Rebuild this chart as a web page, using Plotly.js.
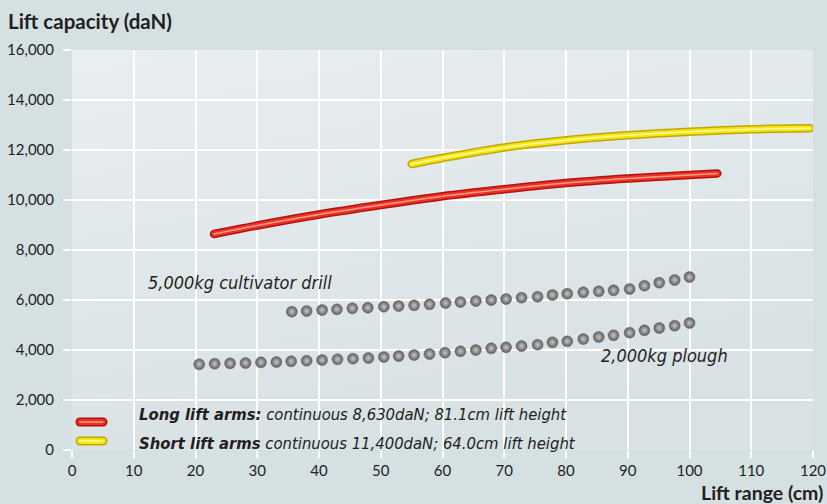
<!DOCTYPE html>
<html>
<head>
<meta charset="utf-8">
<script src="https://cdn.plot.ly/plotly-3.0.1.min.js"></script>
<style>
html,body{margin:0;padding:0;background:#d5e0e3;}
#chart{width:827px;height:504px;}
#chart .scatterlayer path.js-line, #chart .shapelayer path { stroke-linecap: round; stroke-linejoin: round; }
</style>
</head>
<body>
<div id="chart"></div>
<script>
// Long lift arms (red)
var longX = [23, 30, 40, 50, 60, 70, 80, 90, 100, 104.5];
var longY = [8640, 8980, 9420, 9800, 10150, 10430, 10680, 10860, 11000, 11060];
// Short lift arms (yellow)
var shortX = [55, 60, 70, 80, 90, 100, 110, 119.5];
var shortY = [11440, 11680, 12100, 12390, 12590, 12730, 12830, 12870];
// 5,000kg cultivator drill (dots)
var drillX = [35.6, 38.0, 40.5, 42.9, 45.4, 47.9, 50.5, 52.9, 55.4, 57.9, 60.5, 62.9, 65.4, 67.9, 70.3, 72.8, 75.4, 77.8, 80.2, 82.8, 85.3, 87.7, 90.3, 92.7, 95.1, 97.6, 100.0];
var drillY = [5532, 5560, 5600, 5628, 5668, 5692, 5732, 5760, 5788, 5828, 5880, 5920, 5960, 6000, 6040, 6092, 6132, 6200, 6252, 6308, 6348, 6388, 6440, 6572, 6692, 6800, 6920];
// 2,000kg plough (dots)
var ploughX = [20.6, 23.1, 25.6, 28.1, 30.6, 33.1, 35.5, 38.0, 40.5, 43.0, 45.5, 48.0, 50.5, 52.9, 55.4, 57.9, 60.4, 62.9, 65.4, 67.9, 70.3, 72.8, 75.4, 77.8, 80.2, 82.8, 85.3, 87.7, 90.3, 92.7, 95.1, 97.6, 100.0];
var ploughY = [3428, 3452, 3468, 3480, 3508, 3520, 3548, 3572, 3600, 3628, 3652, 3680, 3720, 3760, 3800, 3840, 3892, 3948, 4000, 4068, 4108, 4160, 4212, 4308, 4348, 4440, 4520, 4588, 4692, 4788, 4880, 4972, 5080];
// labels
var yTickVals = [0, 2000, 4000, 6000, 8000, 10000, 12000, 14000, 16000];
var yTickText = ['0', '2,000', '4,000', '6,000', '8,000', '10,000', '12,000', '14,000', '16,000'];
var xTickVals = [0, 10, 20, 30, 40, 50, 60, 70, 80, 90, 100, 110, 120];
var legendLong = '<b>Long lift arms:</b> continuous 8,630daN; 81.1cm lift height';
var legendShort = '<b>Short lift arms</b> continuous 11,400daN; 64.0cm lift height';
var yTitle = 'Lift capacity (daN)';
var xTitle = 'Lift range (cm)';
var drillLabel = '5,000kg cultivator drill';
var ploughLabel = '2,000kg plough';

var narrow = 'Liberation Sans Narrow, DejaVu Sans Condensed, Arial Narrow, sans-serif';
var main = 'Lato, Noto Sans, sans-serif';

function tube(x, y, dark, mid, light) {
  return [
    {x: x, y: y, mode: 'lines', line: {color: dark, width: 8.5, shape: 'spline'}, hoverinfo: 'skip', showlegend: false},
    {x: x, y: y, mode: 'lines', line: {color: mid, width: 5.5, shape: 'spline'}, hoverinfo: 'skip', showlegend: false},
    {x: x, y: y, mode: 'lines', line: {color: light, width: 1.6, shape: 'spline'}, hoverinfo: 'skip', showlegend: false}
  ];
}
function dots(x, y) {
  return {x: x, y: y, mode: 'markers', showlegend: false, hoverinfo: 'x+y',
    marker: {size: 11, color: '#5c5c5c', gradient: {type: 'radial', color: '#c8c8c8'}, line: {color: '#666666', width: 0.5}}};
}

var traces = [].concat(
  tube(longX, longY, '#b5120e', '#ea3225', '#ff9c8c'),
  tube(shortX, shortY, '#bfa900', '#f7e410', '#fffba8'),
  [dots(drillX, drillY), dots(ploughX, ploughY)]
);

var bgSvg = "<svg xmlns='http://www.w3.org/2000/svg' width='100' height='100' preserveAspectRatio='none'><defs><linearGradient id='g' x1='0' y1='0' x2='0.35' y2='1'><stop offset='0' stop-color='#e9eef0'/><stop offset='1' stop-color='#d8e1e4'/></linearGradient></defs><rect width='100' height='100' fill='url(#g)'/></svg>";

var ly1 = (450 - 422) / 400, ly2 = (450 - 441) / 400;
var lx0 = 8 / 741, lx1 = 31 / 741;

var layout = {
  width: 827, height: 504,
  margin: {l: 72, r: 14, t: 50, b: 54},
  paper_bgcolor: '#d5e0e3',
  plot_bgcolor: 'rgba(0,0,0,0)',
  showlegend: false,
  title: {text: '<b>' + yTitle + '</b>', x: 8 / 827, xanchor: 'left', xref: 'container', y: 1 - 22 / 504, yanchor: 'middle', yref: 'container',
          font: {family: main, size: 20.5, color: '#231f20'}},
  xaxis: {range: [0, 120], tickvals: xTickVals, showgrid: true, gridcolor: '#ffffff', gridwidth: 2,
          zeroline: false, showline: false, ticks: 'outside', ticklen: 7, tickwidth: 2, tickcolor: '#ffffff',
          tickfont: {family: main, size: 15, color: '#231f20'}, fixedrange: true},
  yaxis: {range: [0, 16000], tickvals: yTickVals, ticktext: yTickText, showgrid: true, gridcolor: '#ffffff', gridwidth: 2,
          zeroline: false, showline: false, ticks: 'outside', ticklen: 8, tickwidth: 2, tickcolor: '#ffffff',
          ticklabelstandoff: 6,
          tickfont: {family: main, size: 15, color: '#231f20'}, fixedrange: true},
  images: [{source: 'data:image/svg+xml;charset=utf-8,' + encodeURIComponent(bgSvg), xref: 'paper', yref: 'paper',
            x: 0, y: 1, sizex: 1, sizey: 1, sizing: 'stretch', xanchor: 'left', yanchor: 'top', layer: 'below'}],
  shapes: [
    {type: 'line', xref: 'paper', yref: 'paper', x0: lx0, x1: lx1, y0: ly1, y1: ly1, line: {color: '#b5120e', width: 9}},
    {type: 'line', xref: 'paper', yref: 'paper', x0: lx0, x1: lx1, y0: ly1, y1: ly1, line: {color: '#ea3225', width: 6}},
    {type: 'line', xref: 'paper', yref: 'paper', x0: lx0, x1: lx1, y0: ly1, y1: ly1, line: {color: '#ff9c8c', width: 1.6}},
    {type: 'line', xref: 'paper', yref: 'paper', x0: lx0, x1: lx1, y0: ly2, y1: ly2, line: {color: '#bfa900', width: 9}},
    {type: 'line', xref: 'paper', yref: 'paper', x0: lx0, x1: lx1, y0: ly2, y1: ly2, line: {color: '#f7e410', width: 6}},
    {type: 'line', xref: 'paper', yref: 'paper', x0: lx0, x1: lx1, y0: ly2, y1: ly2, line: {color: '#fffba8', width: 1.6}}
  ],
  annotations: [
    {text: '<i>' + legendLong + '</i>', xref: 'paper', yref: 'paper', x: (137 - 72) / 741, y: (450 - 414) / 400,
     xanchor: 'left', yanchor: 'middle', showarrow: false, font: {family: narrow, size: 16.5, color: '#231f20'}},
    {text: '<i>' + legendShort + '</i>', xref: 'paper', yref: 'paper', x: (137 - 72) / 741, y: (450 - 443) / 400,
     xanchor: 'left', yanchor: 'middle', showarrow: false, font: {family: narrow, size: 16.5, color: '#231f20'}},
    {text: '<i>' + drillLabel + '</i>', xref: 'x', yref: 'y', x: 12, y: 6720, xanchor: 'left', yanchor: 'middle',
     showarrow: false, font: {family: narrow, size: 18, color: '#231f20'}},
    {text: '<i>' + ploughLabel + '</i>', xref: 'x', yref: 'y', x: 106.6, y: 3800, xanchor: 'right', yanchor: 'middle',
     showarrow: false, font: {family: narrow, size: 18, color: '#231f20'}},
    {text: '<b>' + xTitle + '</b>', xref: 'paper', yref: 'paper', x: (825 - 72) / 741, y: (450 - 492) / 400,
     xanchor: 'right', yanchor: 'middle', showarrow: false, font: {family: main, size: 19.5, color: '#231f20'}}
  ]
};

Plotly.newPlot('chart', traces, layout, {displayModeBar: false, staticPlot: true});
</script>
</body>
</html>
